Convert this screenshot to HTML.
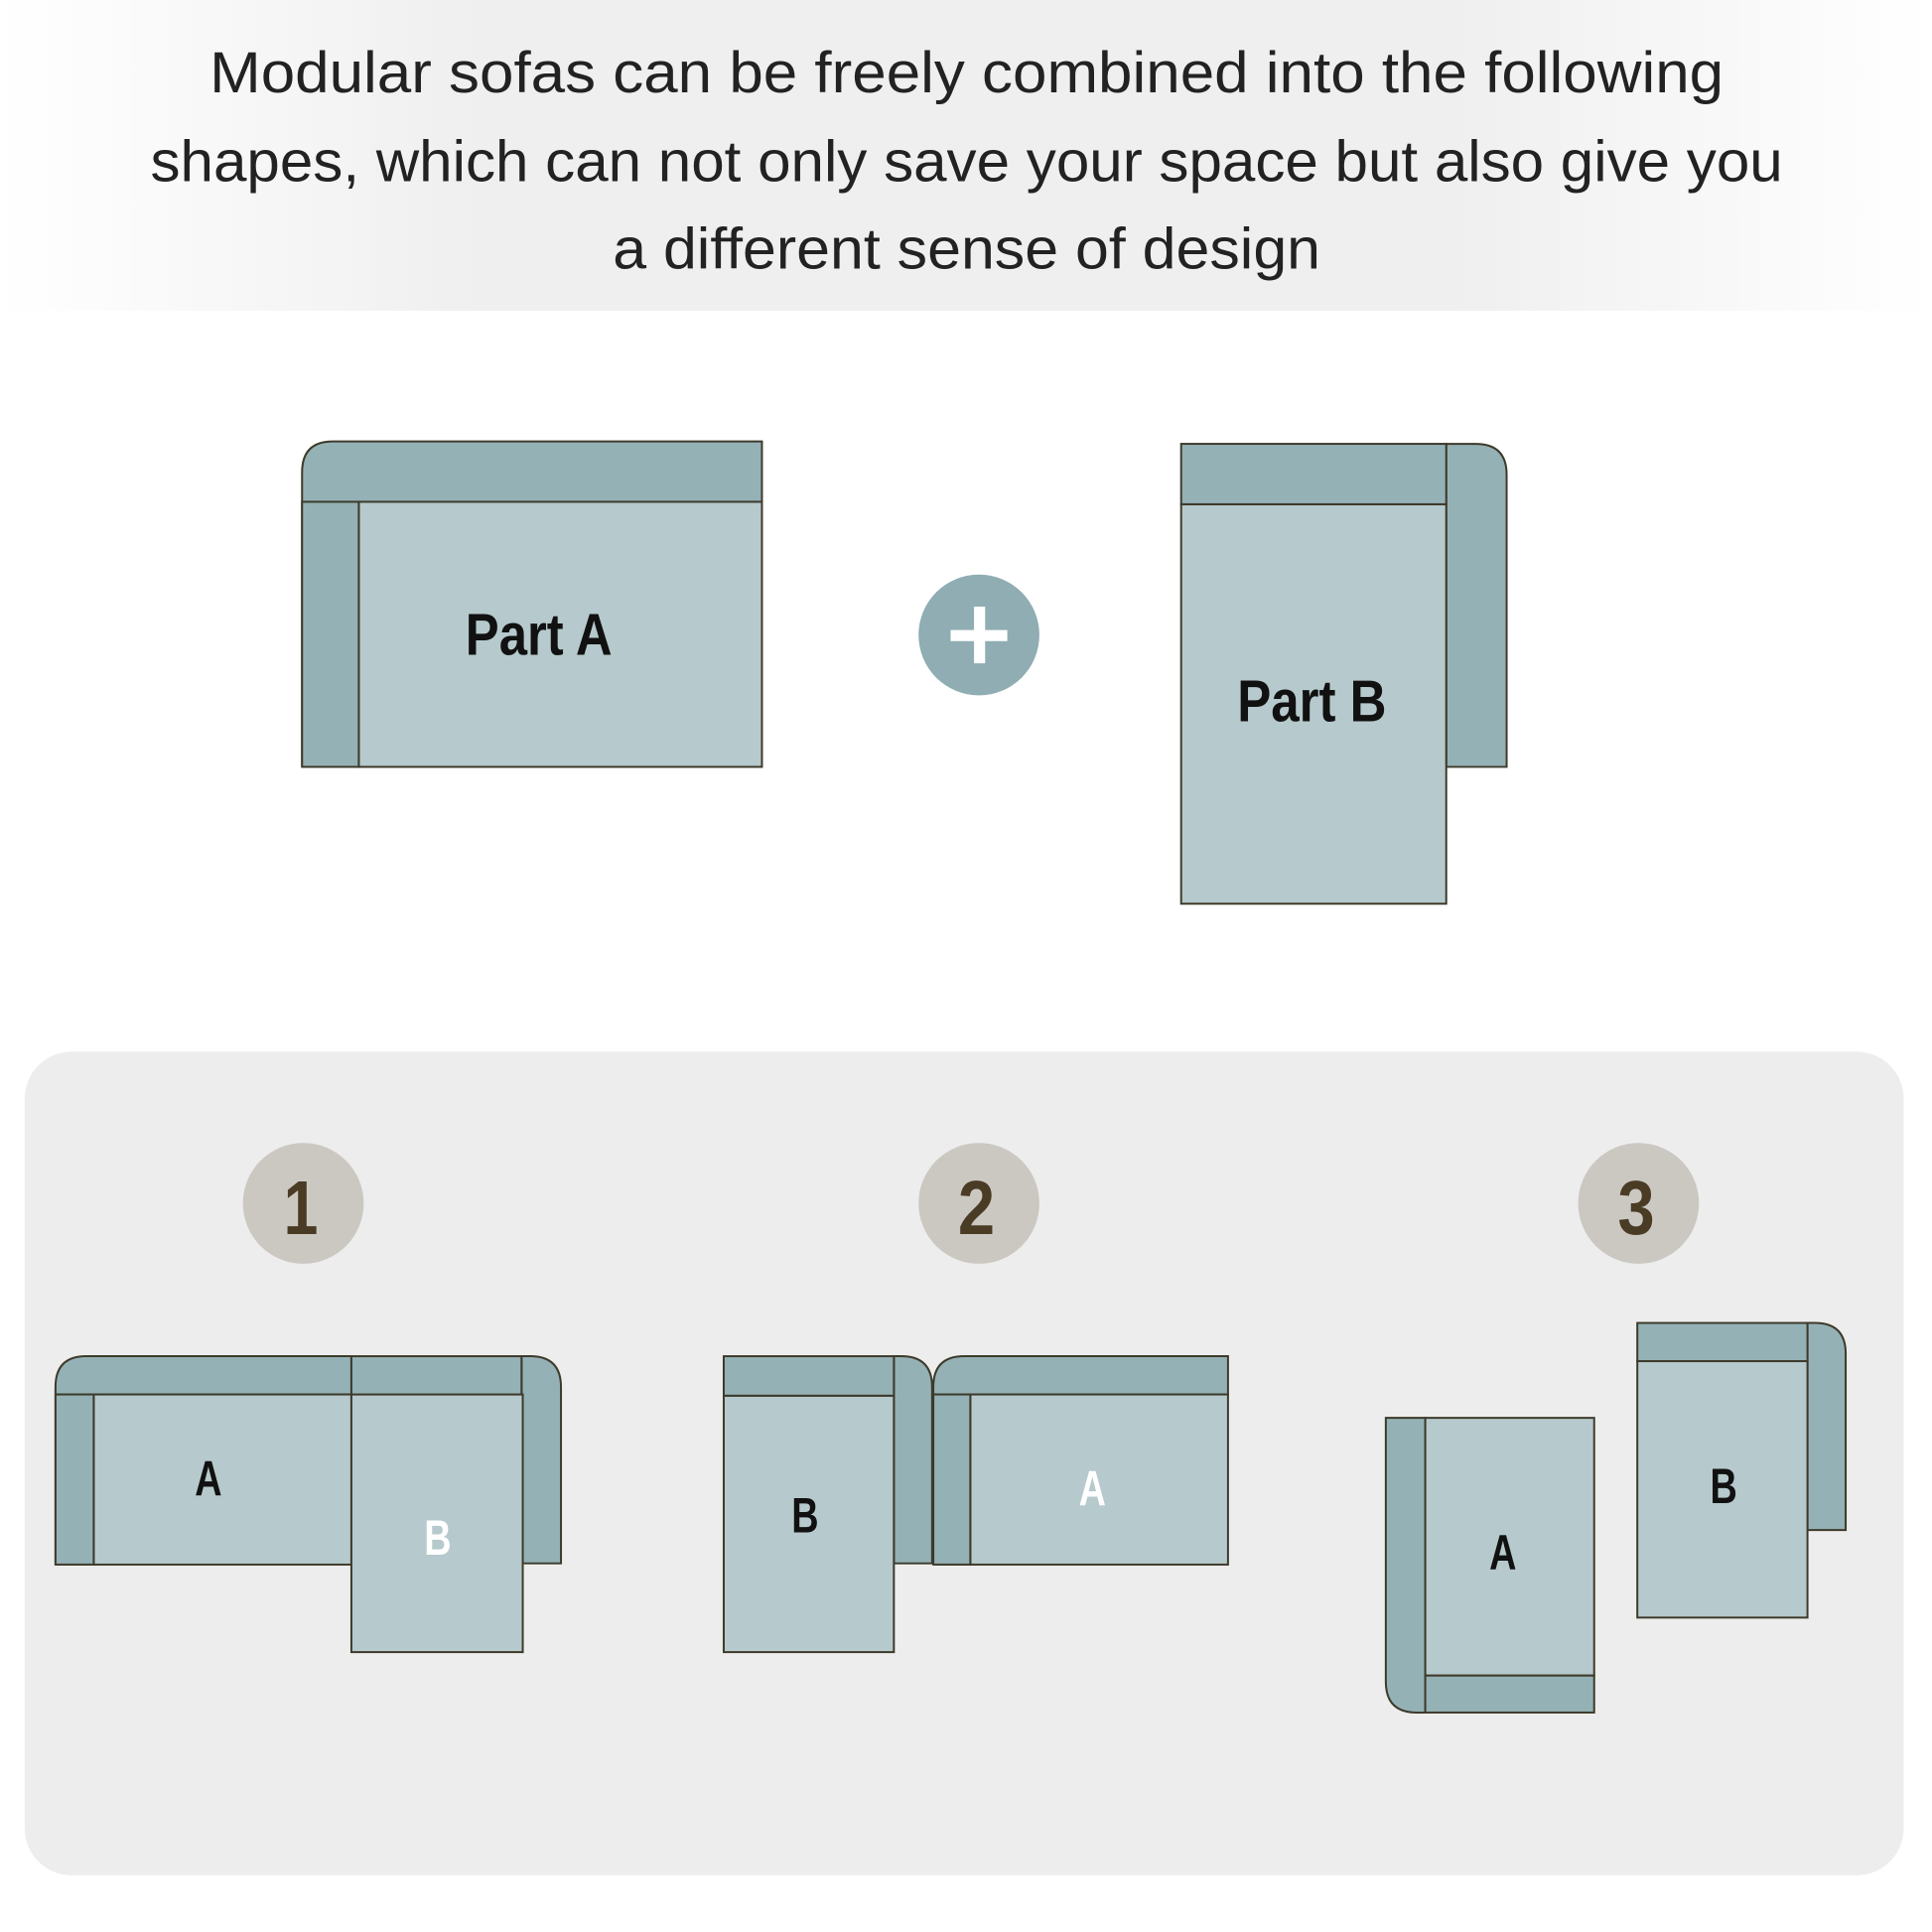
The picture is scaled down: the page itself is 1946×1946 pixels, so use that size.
<!DOCTYPE html>
<html><head><meta charset="utf-8"><style>
html,body{margin:0;padding:0;background:#fff;}
svg{display:block;}
</style></head><body>
<svg width="1946" height="1946" viewBox="0 0 1567 1567" xmlns="http://www.w3.org/2000/svg">
<defs>
<linearGradient id="hg" x1="0" x2="1" y1="0" y2="0">
<stop offset="0" stop-color="#ffffff"/>
<stop offset="0.25" stop-color="#efefef"/>
<stop offset="0.75" stop-color="#efefef"/>
<stop offset="1" stop-color="#ffffff"/>
</linearGradient>
</defs>
<rect x="0" y="0" width="1567" height="252" fill="url(#hg)"/>
<g font-family="Liberation Sans, sans-serif" font-size="47" fill="#222" text-anchor="middle">
<text x="784" y="75" textLength="1228" lengthAdjust="spacingAndGlyphs">Modular sofas can be freely combined into the following</text>
<text x="784" y="147" textLength="1324" lengthAdjust="spacingAndGlyphs">shapes, which can not only save your space but also give you</text>
<text x="784" y="218" textLength="574" lengthAdjust="spacingAndGlyphs">a different sense of design</text>
</g>

<g stroke="#3d3a2a" stroke-width="1.6">
<path d="M245 622 V383 Q245 358 270 358 H618 V407 H245 Z" fill="#94b1b6"/>
<rect x="291" y="407" width="327" height="215" fill="#b6c9cc"/>
<rect x="245" y="407" width="46" height="215" fill="#94b1b6"/>
<path d="M1173 360 H1197 Q1222 360 1222 385 V622 H1173 Z" fill="#94b1b6"/>
<rect x="958" y="409" width="215" height="324" fill="#b6c9cc"/>
<rect x="958" y="360" width="215" height="49" fill="#94b1b6"/>
</g>
<g font-family="Liberation Sans, sans-serif" font-weight="bold" fill="#111" text-anchor="middle">
<text x="437" y="531" font-size="48" textLength="119" lengthAdjust="spacingAndGlyphs">Part A</text>
<text x="1064" y="585" font-size="48" textLength="121" lengthAdjust="spacingAndGlyphs">Part B</text>
</g>
<circle cx="794" cy="515" r="49" fill="#8fadb2"/>
<rect x="771" y="511" width="46" height="9" fill="#fff"/>
<rect x="790" y="492" width="9" height="46" fill="#fff"/>

<rect x="20" y="853" width="1524" height="668" rx="38" fill="#ededed"/>
<g fill="#cbc8c2">
<circle cx="246" cy="976" r="49"/><circle cx="794" cy="976" r="49"/><circle cx="1329" cy="976" r="49"/>
</g>
<g font-family="Liberation Sans, sans-serif" font-weight="bold" fill="#4a3b25" text-anchor="middle" font-size="62">
<text x="244" y="1001" textLength="28" lengthAdjust="spacingAndGlyphs">1</text>
<text x="792" y="1001" textLength="30" lengthAdjust="spacingAndGlyphs">2</text>
<text x="1327" y="1001" textLength="30" lengthAdjust="spacingAndGlyphs">3</text>
</g>

<g stroke="#3d3a2a" stroke-width="1.6">
<path d="M45 1269 V1125 Q45 1100 70 1100 H285 V1131 H45 Z" fill="#94b1b6"/>
<rect x="76" y="1131" width="209" height="138" fill="#b6c9cc"/>
<rect x="45" y="1131" width="31" height="138" fill="#94b1b6"/>
<path d="M423 1100 H430 Q455 1100 455 1125 V1268 H423 Z" fill="#94b1b6"/>
<rect x="285" y="1131" width="139" height="209" fill="#b6c9cc"/>
<rect x="285" y="1100" width="138" height="31" fill="#94b1b6"/>
<path d="M725 1100 H731 Q756 1100 756 1125 V1268 H725 Z" fill="#94b1b6"/>
<rect x="587" y="1132" width="138" height="208" fill="#b6c9cc"/>
<rect x="587" y="1100" width="138" height="32" fill="#94b1b6"/>
<path d="M757 1269 V1125 Q757 1100 782 1100 H996 V1131 H757 Z" fill="#94b1b6"/>
<rect x="787" y="1131" width="209" height="138" fill="#b6c9cc"/>
<rect x="757" y="1131" width="30" height="138" fill="#94b1b6"/>
<path d="M1124 1150 H1156 V1389 H1149 Q1124 1389 1124 1364 Z" fill="#94b1b6"/>
<rect x="1156" y="1150" width="137" height="209" fill="#b6c9cc"/>
<rect x="1156" y="1359" width="137" height="30" fill="#94b1b6"/>
<path d="M1466 1073 H1472 Q1497 1073 1497 1098 V1241 H1466 Z" fill="#94b1b6"/>
<rect x="1328" y="1104" width="138" height="208" fill="#b6c9cc"/>
<rect x="1328" y="1073" width="138" height="31" fill="#94b1b6"/>
</g>
<g font-family="Liberation Sans, sans-serif" font-weight="bold" text-anchor="middle" font-size="40">
<text x="169" y="1213" fill="#111" textLength="22" lengthAdjust="spacingAndGlyphs">A</text>
<text x="355" y="1261" fill="#fff" textLength="22" lengthAdjust="spacingAndGlyphs">B</text>
<text x="653" y="1243" fill="#111" textLength="22" lengthAdjust="spacingAndGlyphs">B</text>
<text x="886" y="1221" fill="#fff" textLength="22" lengthAdjust="spacingAndGlyphs">A</text>
<text x="1219" y="1273" fill="#111" textLength="22" lengthAdjust="spacingAndGlyphs">A</text>
<text x="1398" y="1219" fill="#111" textLength="22" lengthAdjust="spacingAndGlyphs">B</text>
</g>
</svg>
</body></html>
